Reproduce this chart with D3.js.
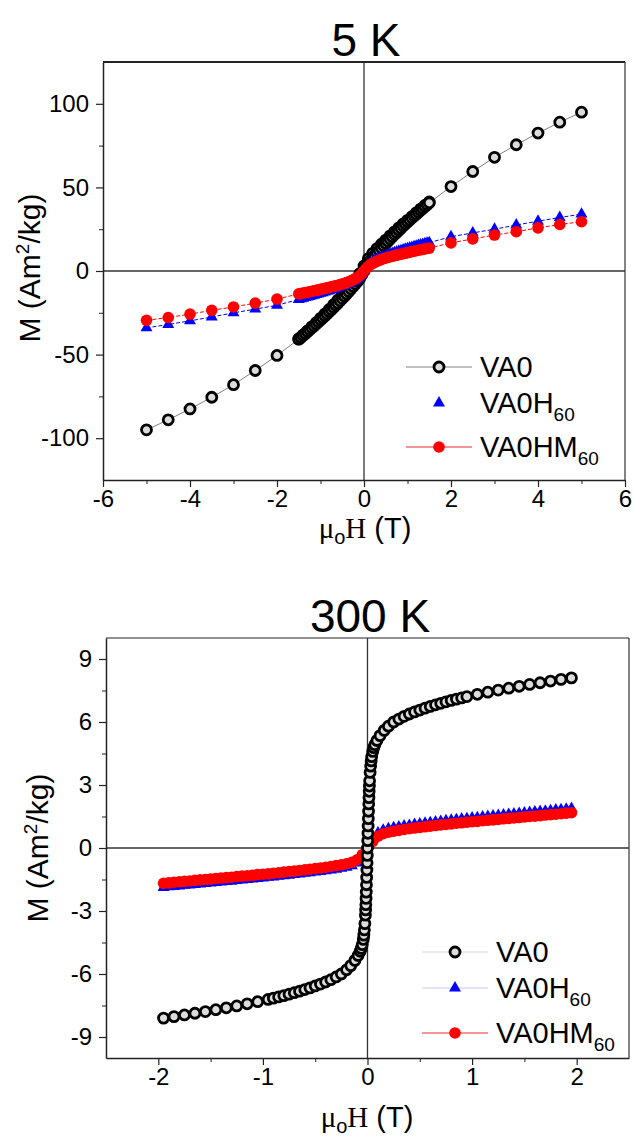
<!DOCTYPE html>
<html lang="en">
<head>
<meta charset="UTF-8">
<title>M-H loops, 5 K and 300 K</title>
<script src="https://cdn.jsdelivr.net/npm/d3@7"></script>
<style>
  body { margin: 0; background: #fff; }
  svg text { font-family: "Liberation Sans", Arial, sans-serif; fill: #000; }
</style>
</head>
<body>
<div id="chart"></div>
<script>
// ---------- data ----------
// series names (legend): base text + subscript
const legendBase = ["VA0", "VA0H", "VA0HM"];
const legendSub = ["", "60", "60"];

// 5 K: applied field (T), same grid for all three samples
const field5K = [-5, -4.5, -4, -3.5, -3, -2.5, -2,
  -1.5, -1.45, -1.4, -1.35, -1.3, -1.25, -1.2, -1.15, -1.1, -1.05, -1, -0.95, -0.9, -0.85, -0.8, -0.75, -0.7, -0.65, -0.6, -0.55,
  -0.5, -0.45, -0.4, -0.35, -0.3, -0.25, -0.2, -0.15, -0.1, -0.05, 0,
  0.05, 0.1, 0.15, 0.2, 0.25, 0.3, 0.35, 0.4, 0.45, 0.5, 0.55, 0.6, 0.65, 0.7, 0.75, 0.8, 0.85, 0.9, 0.95,
  1, 1.05, 1.1, 1.15, 1.2, 1.25, 1.3, 1.35, 1.4, 1.45, 1.5,
  2, 2.5, 3, 3.5, 4, 4.5, 5];
const va0_5K = [-95, -89, -82.5, -75.5, -68, -59.5, -50.5,
  -40.8, -39.7, -38.6, -37.45, -36.3, -35.15, -34.0, -32.85, -31.7, -30.5, -29.3, -28.1, -26.9, -25.65, -24.4, -23.1, -21.8, -20.5, -19.2, -17.85,
  -16.5, -15.1, -13.7, -12.25, -10.8, -9.3, -7.8, -6.2, -4.5, -2.3, 0,
  2.3, 4.5, 6.2, 7.8, 9.3, 10.8, 12.25, 13.7, 15.1, 16.5, 17.85, 19.2, 20.5, 21.8, 23.1, 24.4, 25.65, 26.9, 28.1,
  29.3, 30.5, 31.7, 32.85, 34.0, 35.15, 36.3, 37.45, 38.6, 39.7, 40.8,
  50.5, 59.5, 68, 75.5, 82.5, 89, 95];
// VA0 at 5 K, return branch of the low-field loop (1.5 T down to -1.5 T)
const fieldVA0Return5K = [1.5, 1.4, 1.3, 1.2, 1.1, 1, 0.9, 0.8, 0.7, 0.6, 0.5, 0.4, 0.3, 0.2, 0.1, 0,
  -0.1, -0.2, -0.3, -0.4, -0.5, -0.6, -0.7, -0.8, -0.9, -1, -1.1, -1.2, -1.3, -1.4, -1.5];
const va0Return5K = [41.3, 39.2, 37.0, 34.8, 32.5, 30.3, 28.1, 25.8, 23.4, 21.0, 18.5, 16.0, 13.4, 10.6, 7.4, 3.0,
  -1.6, -5.1, -8.2, -11.3, -14.5, -17.4, -20.2, -23.0, -25.7, -28.3, -30.9, -33.4, -35.9, -38.3, -40.6];
const va0h60_5K = [-34, -32, -29.8, -27.5, -25, -22.8, -20.5,
  -17.0, -16.65, -16.3, -15.95, -15.6, -15.25, -14.9, -14.5, -14.1, -13.75, -13.4, -13.0, -12.6, -12.2, -11.8, -11.4, -11.0, -10.55, -10.1, -9.65,
  -9.2, -8.7, -8.2, -7.6, -7.0, -6.3, -5.5, -4.6, -3.5, -1.9, 0,
  1.9, 3.5, 4.6, 5.5, 6.3, 7.0, 7.6, 8.2, 8.7, 9.2, 9.65, 10.1, 10.55, 11.0, 11.4, 11.8, 12.2, 12.6, 13.0,
  13.4, 13.75, 14.1, 14.5, 14.9, 15.25, 15.6, 15.95, 16.3, 16.65, 17.0,
  20.5, 22.8, 25, 27.5, 29.8, 32, 34];
const va0hm60_5K = [-29.5, -27.8, -25.8, -23.5, -21.5, -19.2, -16.8,
  -13.7, -13.45, -13.2, -12.95, -12.7, -12.4, -12.1, -11.85, -11.6, -11.3, -11.0, -10.7, -10.4, -10.1, -9.8, -9.5, -9.2, -8.85, -8.5, -8.15,
  -7.8, -7.35, -6.9, -6.4, -5.9, -5.25, -4.6, -3.8, -2.8, -1.5, 0,
  1.5, 2.8, 3.8, 4.6, 5.25, 5.9, 6.4, 6.9, 7.35, 7.8, 8.15, 8.5, 8.85, 9.2, 9.5, 9.8, 10.1, 10.4, 10.7,
  11.0, 11.3, 11.6, 11.85, 12.1, 12.4, 12.7, 12.95, 13.2, 13.45, 13.7,
  16.8, 19.2, 21.5, 23.5, 25.8, 27.8, 29.5];

// 300 K: VA0 was measured on a finer grid near zero field
const fieldVA0_300K = [-1.95, -1.85, -1.75, -1.65, -1.55, -1.45, -1.35, -1.25, -1.15, -1.05,
  -0.95, -0.9, -0.85, -0.8, -0.75, -0.7, -0.65, -0.6, -0.55, -0.5, -0.45, -0.4, -0.35, -0.3, -0.25, -0.2,
  -0.16, -0.12, -0.09, -0.07, -0.06, -0.05, -0.04, -0.035, -0.03, -0.025,
  -0.02, -0.018, -0.016, -0.014, -0.012, -0.01, -0.008, -0.006, -0.004, -0.002, 0,
  0.002, 0.004, 0.006, 0.008, 0.01, 0.012, 0.014, 0.016, 0.018, 0.02,
  0.025, 0.03, 0.035, 0.04, 0.05, 0.06, 0.07, 0.09, 0.12, 0.16,
  0.2, 0.25, 0.3, 0.35, 0.4, 0.45, 0.5, 0.55, 0.6, 0.65, 0.7, 0.75, 0.8, 0.85, 0.9, 0.95,
  1.05, 1.15, 1.25, 1.35, 1.45, 1.55, 1.65, 1.75, 1.85, 1.95];
const va0_300K = [-8.10, -8.03, -7.95, -7.87, -7.79, -7.70, -7.61, -7.52, -7.42, -7.32,
  -7.21, -7.15, -7.09, -7.03, -6.96, -6.89, -6.82, -6.74, -6.66, -6.57, -6.48, -6.38, -6.27, -6.14, -6.0, -5.8,
  -5.6, -5.35, -5.12, -4.92, -4.78, -4.6, -4.35, -4.15, -3.9, -3.6,
  -3.2, -2.95, -2.7, -2.4, -2.1, -1.75, -1.4, -1.05, -0.7, -0.35, 0,
  0.35, 0.7, 1.05, 1.4, 1.75, 2.1, 2.4, 2.7, 2.95, 3.2,
  3.6, 3.9, 4.15, 4.35, 4.6, 4.78, 4.92, 5.12, 5.35, 5.6,
  5.8, 6.0, 6.14, 6.27, 6.38, 6.48, 6.57, 6.66, 6.74, 6.82, 6.89, 6.96, 7.03, 7.09, 7.15, 7.21,
  7.32, 7.42, 7.52, 7.61, 7.70, 7.79, 7.87, 7.95, 8.03, 8.10];

// 300 K: VA0H60 and VA0HM60 share one field grid
const field300K = [-1.95, -1.9, -1.85, -1.8, -1.75, -1.7, -1.65, -1.6, -1.55, -1.5, -1.45, -1.4, -1.35, -1.3, -1.25, -1.2, -1.15, -1.1, -1.05, -1,
  -0.95, -0.9, -0.85, -0.8, -0.75, -0.7, -0.65, -0.6, -0.55, -0.5, -0.45, -0.4, -0.35, -0.3, -0.25, -0.2, -0.15, -0.1, -0.05, 0,
  0.05, 0.1, 0.15, 0.2, 0.25, 0.3, 0.35, 0.4, 0.45, 0.5, 0.55, 0.6, 0.65, 0.7, 0.75, 0.8, 0.85, 0.9, 0.95,
  1, 1.05, 1.1, 1.15, 1.2, 1.25, 1.3, 1.35, 1.4, 1.45, 1.5, 1.55, 1.6, 1.65, 1.7, 1.75, 1.8, 1.85, 1.9, 1.95];
const va0h60_300K = [-1.88, -1.85, -1.83, -1.81, -1.78, -1.76, -1.74, -1.72, -1.69, -1.67, -1.65, -1.62, -1.60, -1.58, -1.55, -1.53, -1.50, -1.48, -1.45, -1.43,
  -1.40, -1.38, -1.35, -1.32, -1.30, -1.27, -1.24, -1.21, -1.18, -1.15, -1.12, -1.08, -1.05, -1.01, -0.97, -0.92, -0.85, -0.72, -0.42, 0,
  0.42, 0.72, 0.85, 0.92, 0.97, 1.01, 1.05, 1.08, 1.12, 1.15, 1.18, 1.21, 1.24, 1.27, 1.30, 1.32, 1.35, 1.38, 1.40,
  1.43, 1.45, 1.48, 1.50, 1.53, 1.55, 1.58, 1.60, 1.62, 1.65, 1.67, 1.69, 1.72, 1.74, 1.76, 1.78, 1.81, 1.83, 1.85, 1.88];
const va0hm60_300K = [-1.68, -1.66, -1.63, -1.61, -1.59, -1.57, -1.54, -1.52, -1.50, -1.48, -1.45, -1.43, -1.41, -1.39, -1.36, -1.34, -1.32, -1.30, -1.27, -1.25,
  -1.23, -1.20, -1.18, -1.15, -1.12, -1.10, -1.07, -1.04, -1.01, -0.98, -0.95, -0.92, -0.88, -0.84, -0.80, -0.75, -0.68, -0.56, -0.32, 0,
  0.32, 0.56, 0.68, 0.75, 0.80, 0.84, 0.88, 0.92, 0.95, 0.98, 1.01, 1.04, 1.07, 1.10, 1.12, 1.15, 1.18, 1.20, 1.23,
  1.25, 1.27, 1.30, 1.32, 1.34, 1.36, 1.39, 1.41, 1.43, 1.45, 1.48, 1.50, 1.52, 1.54, 1.57, 1.59, 1.61, 1.63, 1.66, 1.68];

// ticks
const xTicks5K = [-6, -4, -2, 0, 2, 4, 6];
const xMinor5K = [-5, -3, -1, 1, 3, 5];
const yTicks5K = [-100, -50, 0, 50, 100];
const yMinor5K = [-75, -25, 25, 75];
const xTicks300K = [-2, -1, 0, 1, 2];
const xMinor300K = [-1.5, -0.5, 0.5, 1.5];
const yTicks300K = [-9, -6, -3, 0, 3, 6, 9];
const yMinor300K = [-7.5, -4.5, -1.5, 1.5, 4.5, 7.5];

// ---------- drawing ----------
const svg = d3.select("#chart").append("svg")
  .attr("width", 633)
  .attr("height", 1142);

const markerStyles = [
  { shape: "open", line: "#808080", dash: null },
  { shape: "tri", line: "#0000ff", dash: "4,2" },
  { shape: "dot", line: "#ff0000", dash: "4,2" }
];

function drawMarker(sel, shape) {
  if (shape === "open") {
    sel.append("circle").attr("r", 5)
      .attr("fill", "#dcdcdc").attr("stroke", "#000").attr("stroke-width", 2.8);
  } else if (shape === "tri") {
    sel.append("path").attr("d", d3.symbol(d3.symbolTriangle, 62)())
      .attr("fill", "#0000ff");
  } else {
    sel.append("circle").attr("r", 5.8).attr("fill", "#ff0000");
  }
}

function drawPanel(cfg) {
  const g = svg.append("g");
  const x = d3.scaleLinear().domain(cfg.xDomain).range([cfg.left, cfg.right]);
  const y = d3.scaleLinear().domain(cfg.yDomain).range([cfg.bottom, cfg.top]);

  // title
  g.append("text")
    .attr("x", cfg.titleX).attr("y", cfg.titleY)
    .attr("text-anchor", "middle")
    .style("font-size", "46px")
    .text(cfg.title);

  // frame (top and right) + zero lines
  g.append("line").attr("x1", cfg.left).attr("x2", cfg.right).attr("y1", cfg.top).attr("y2", cfg.top)
    .attr("stroke", "#222").attr("stroke-width", cfg.topWidth);
  g.append("line").attr("x1", cfg.right).attr("x2", cfg.right).attr("y1", cfg.top).attr("y2", cfg.bottom)
    .attr("stroke", "#333").attr("stroke-width", 1.2);
  g.append("line").attr("x1", x(0)).attr("x2", x(0)).attr("y1", cfg.top).attr("y2", cfg.bottom)
    .attr("stroke", "#333").attr("stroke-width", 1.3);
  g.append("line").attr("x1", cfg.left).attr("x2", cfg.right).attr("y1", y(0)).attr("y2", y(0))
    .attr("stroke", "#333").attr("stroke-width", 1.3);

  // minor ticks
  g.append("g").attr("transform", `translate(0,${cfg.bottom})`)
    .call(d3.axisBottom(x).tickValues(cfg.xMinor).tickSize(4).tickSizeOuter(0).tickFormat(""))
    .call(a => a.select(".domain").remove());
  g.append("g").attr("transform", `translate(${cfg.left},0)`)
    .call(d3.axisLeft(y).tickValues(cfg.yMinor).tickSize(4).tickSizeOuter(0).tickFormat(""))
    .call(a => a.select(".domain").remove());

  // major axes
  const xa = g.append("g").attr("transform", `translate(0,${cfg.bottom})`)
    .call(d3.axisBottom(x).tickValues(cfg.xTicks).tickSize(7).tickSizeOuter(0).tickPadding(3).tickFormat(d => String(d)));
  const ya = g.append("g").attr("transform", `translate(${cfg.left},0)`)
    .call(d3.axisLeft(y).tickValues(cfg.yTicks).tickSize(7).tickSizeOuter(0).tickPadding(7).tickFormat(d => String(d)));
  [xa, ya].forEach(a => {
    a.select(".domain").attr("stroke", "#222").attr("stroke-width", 1.5);
    a.selectAll(".tick line").attr("stroke", "#222").attr("stroke-width", 1.2);
    a.selectAll(".tick text").style("font-size", "24px").attr("fill", "#111")
      .style("font-family", "'Liberation Sans', Arial, sans-serif");
  });
  g.selectAll(".tick line").attr("stroke", "#222");

  // axis labels
  const xl = g.append("text")
    .attr("x", cfg.xLabelX).attr("y", cfg.xLabelY)
    .attr("text-anchor", "middle")
    .style("font-size", "29px");
  xl.append("tspan").style("font-family", "'Liberation Serif', serif").text("μ");
  xl.append("tspan").attr("dy", 6).style("font-size", "20px").text("o");
  xl.append("tspan").attr("dy", -6).style("font-family", "'Liberation Serif', serif").text("H");
  xl.append("tspan").text(" (T)");

  const yl = g.append("text")
    .attr("transform", `translate(${cfg.yLabelX},${cfg.yLabelY}) rotate(-90)`)
    .attr("text-anchor", "middle")
    .style("font-size", "30px");
  yl.append("tspan").text("M (Am");
  yl.append("tspan").attr("dy", -11).style("font-size", "19px").text("2");
  yl.append("tspan").attr("dy", 11).text("/kg)");

  // data
  const line = d3.line().x(d => x(d[0])).y(d => y(d[1]));
  const drawBranch = (hs, ms, st, withLine) => {
    const pts = hs.map((h, k) => [h, ms[k]]);
    if (withLine) {
      g.append("path").datum(pts)
        .attr("d", line)
        .attr("fill", "none")
        .attr("stroke", st.line)
        .attr("stroke-width", 1)
        .attr("stroke-dasharray", st.dash);
    }
    const mk = g.append("g").selectAll("g").data(pts).join("g")
      .attr("transform", d => `translate(${x(d[0])},${y(d[1])})`);
    drawMarker(mk, st.shape);
  };
  cfg.order.forEach(i => {
    const s = cfg.series[i];
    const st = markerStyles[i];
    if (s.h2) drawBranch(s.h2, s.m2, st, false);
    drawBranch(s.h, s.m, st, true);
  });

  // legend
  legendBase.forEach((name, i) => {
    const ry = cfg.legendRows[i];
    const lg = g.append("g");
    if (cfg.legendLines[i]) {
      lg.append("line")
        .attr("x1", cfg.legendX).attr("x2", cfg.legendX + 66)
        .attr("y1", ry).attr("y2", ry)
        .attr("stroke", cfg.legendLines[i]).attr("stroke-width", 1);
    }
    drawMarker(lg.append("g").attr("transform", `translate(${cfg.legendX + 33},${ry})`), markerStyles[i].shape);
    const t = lg.append("text")
      .attr("x", cfg.legendX + 74).attr("y", ry + 10)
      .style("font-size", "29px");
    t.append("tspan").text(name);
    if (legendSub[i]) {
      t.append("tspan").attr("dy", 8).style("font-size", "19px").text(legendSub[i]);
    }
  });
}

drawPanel({
  title: "5 K", titleX: 366, titleY: 56,
  left: 103, right: 625, top: 62, bottom: 480, topWidth: 2,
  xDomain: [-6, 6], yDomain: [-125, 125],
  xTicks: xTicks5K, xMinor: xMinor5K, yTicks: yTicks5K, yMinor: yMinor5K,
  xLabelX: 365, xLabelY: 538, yLabelX: 40, yLabelY: 268,
  series: [
    { h: field5K, m: va0_5K, h2: fieldVA0Return5K, m2: va0Return5K },
    { h: field5K, m: va0h60_5K },
    { h: field5K, m: va0hm60_5K }
  ],
  order: [0, 1, 2],
  legendX: 406, legendRows: [367, 403, 447],
  legendLines: ["#808080", null, "#e03030"]
});

drawPanel({
  title: "300 K", titleX: 370, titleY: 632,
  left: 106, right: 629, top: 638, bottom: 1058, topWidth: 1.2,
  xDomain: [-2.5, 2.5], yDomain: [-10, 10],
  xTicks: xTicks300K, xMinor: xMinor300K, yTicks: yTicks300K, yMinor: yMinor300K,
  xLabelX: 367, xLabelY: 1127, yLabelX: 48, yLabelY: 848,
  series: [
    { h: fieldVA0_300K, m: va0_300K },
    { h: field300K, m: va0h60_300K },
    { h: field300K, m: va0hm60_300K }
  ],
  order: [1, 2, 0],
  legendX: 422, legendRows: [952, 988, 1033],
  legendLines: ["#d4d4d4", "#c8c8f4", "#e03030"]
});
</script>
</body>
</html>
